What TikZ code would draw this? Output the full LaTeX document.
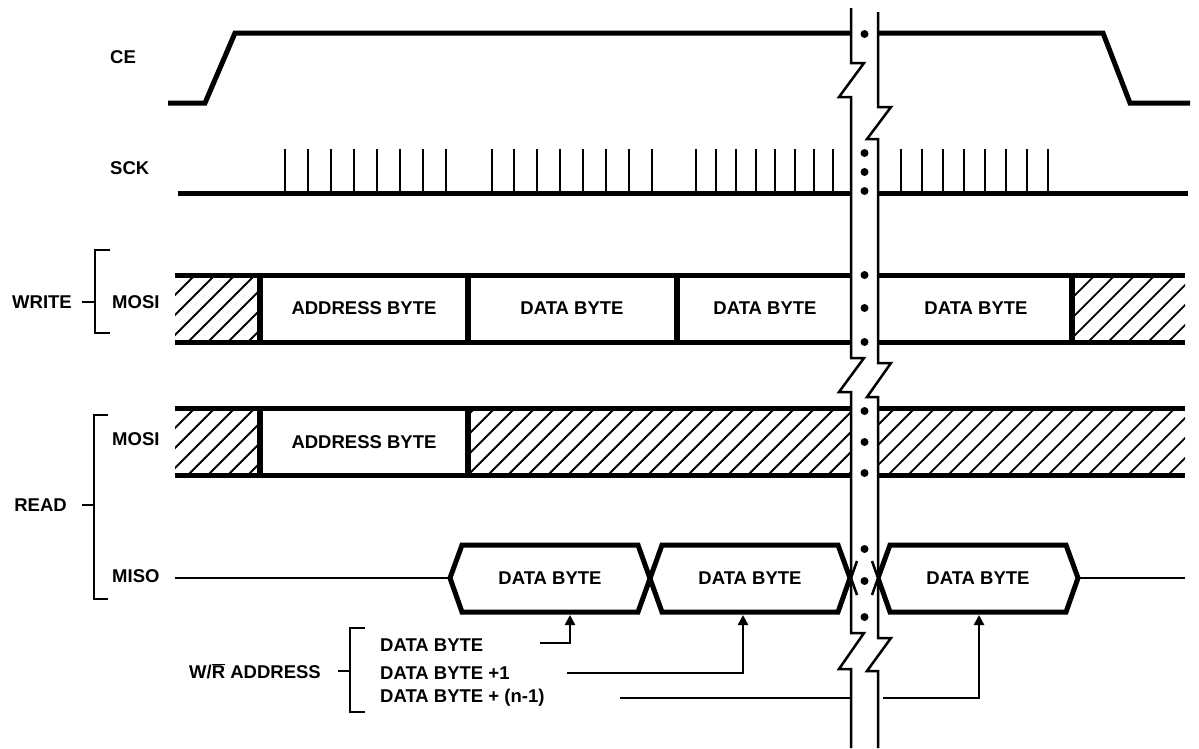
\documentclass[tikz,border=0pt]{standalone}
\usepackage{fontspec}
\setmainfont{Liberation Sans}
\usetikzlibrary{arrows.meta}

\begin{document}
\begin{tikzpicture}[x=1pt, y=-1pt,
    lbl/.style = {font=\bfseries\fontsize{18.5}{21}\selectfont, inner sep=0pt},
    sig/.style = {line width=5pt},
    thin/.style = {line width=2.5pt},
    hatch/.style = {line width=1.8pt},
    bar/.style = {line width=6pt},
    arr/.style = {line width=2.5pt, -{Triangle[width=10pt, length=10pt]}}]
  \useasboundingbox (0,0) rectangle (1199,748);

  % signal names
  \node[lbl, anchor=west] (ce) at (110,57) {CE};
  \node[lbl, anchor=west] (sck) at (110,168) {SCK};
  \node[lbl, anchor=west] (wmosi) at (112,302) {MOSI};
  \node[lbl, anchor=west] (rmosi) at (112,439) {MOSI};
  \node[lbl, anchor=west] (miso) at (112,576) {MISO};
  \node[lbl, anchor=east] (write) at (72,302) {WRITE};
  \node[lbl, anchor=east] (read) at (67,505) {READ};

  % brackets
  \draw[thin] (110,250) -- (95,250) -- (95,333) -- (110,333);
  \draw[thin] (82,302) -- (95,302);
  \draw[thin] (108,415) -- (94,415) -- (94,599) -- (108,599);
  \draw[thin] (82,505) -- (94,505);

  % CE
  \draw[sig] (168,103) -- (205,103) -- (235,33) -- (1103,33) -- (1130,103) -- (1190,103);

  % SCK
  \draw[sig] (178,193) -- (1188,193);
  \foreach \x in {285,308,331,354,377,400,423,446,
                  492,514,537,560,583,606,629,652,
                  696,716,736,756,775,795,814,833,
                  901,922,943,964,985,1006,1027,1048}
    \draw[thin] (\x,149) -- (\x,193);

  % WRITE MOSI
  \begin{scope}
    \clip (175,275) rectangle (258,342);
    \foreach \x in {108,128,...,268} \draw[hatch] (\x,342) -- ++(67,-67);
  \end{scope}
  \begin{scope}
    \clip (1074,275) rectangle (1185,342);
    \foreach \x in {1008,1028,...,1188} \draw[hatch] (\x,342) -- ++(67,-67);
  \end{scope}
  \draw[sig] (175,275) -- (1185,275);
  \draw[sig] (175,342) -- (1185,342);
  \foreach \x in {260,468,677,1072} \draw[bar] (\x,272.5) -- (\x,344.5);
  \node[lbl] (wadr) at (364,308) {ADDRESS BYTE};
  \node[lbl] (wd1) at (572,308) {DATA BYTE};
  \node[lbl] (wd2) at (765,308) {DATA BYTE};
  \node[lbl] (wd3) at (976,308) {DATA BYTE};

  % READ MOSI
  \begin{scope}
    \clip (175,408) rectangle (258,475);
    \foreach \x in {108,128,...,268} \draw[hatch] (\x,475) -- ++(67,-67);
  \end{scope}
  \begin{scope}
    \clip (470,408) rectangle (1185,475);
    \foreach \x in {408,428,...,1188} \draw[hatch] (\x,475) -- ++(67,-67);
  \end{scope}
  \draw[sig] (175,408) -- (1185,408);
  \draw[sig] (175,475) -- (1185,475);
  \foreach \x in {260,468} \draw[bar] (\x,405.5) -- (\x,477.5);
  \node[lbl] (radr) at (364,442) {ADDRESS BYTE};

  % MISO
  \draw[thin] (175,578) -- (450,578);
  \draw[sig] (450,578) -- (462,545) -- (638,545) -- (662,612) -- (838,612) -- (850,578);
  \draw[sig] (450,578) -- (462,612) -- (638,612) -- (662,545) -- (838,545) -- (850,578);
  \draw[sig] (878,578) -- (890,545) -- (1066,545) -- (1078,578) -- (1066,612) -- (890,612) -- cycle;
  \draw[thin] (1078,578) -- (1185,578);
  \node[lbl] (rd1) at (550,578) {DATA BYTE};
  \node[lbl] (rd2) at (750,578) {DATA BYTE};
  \node[lbl] (rd3) at (978,578) {DATA BYTE};

  % W/R address
  \node[lbl, anchor=east] (wr) at (321,671) {W/$\overline{\mbox{R}}$ ADDRESS};
  \draw[thin] (365,628) -- (350,628) -- (350,712) -- (365,712);
  \draw[thin] (338,671) -- (350,671);
  \node[lbl, anchor=west] (b0) at (380,645) {DATA BYTE};
  \node[lbl, anchor=west] (b1) at (380,673) {DATA BYTE +1};
  \node[lbl, anchor=west] (bn) at (380,698) {DATA BYTE + (n-1)};
  \coordinate (t1) at (570,615);
  \coordinate (t2) at (743,615);
  \coordinate (t3) at (979,615);
  \draw[arr] (540,643) -| (t1);
  \draw[arr] (567,673) -| (t2);
  \draw[thin] (620,698) -- (851,698);
  \draw[arr] (883,698) -| (t3);

  % break
  \fill[white] (851,0) rectangle (878,748);
  \draw[thin] (851,8) -- (851,63) -- ++(13,0) -- ++(-25,34) -- ++(12,0)
    -- (851,358) -- ++(13,0) -- ++(-25,34) -- ++(12,0)
    -- (851,633) -- ++(13,0) -- ++(-25,36) -- ++(12,0) -- (851,748);
  \draw[thin] (878,12) -- (878,107) -- ++(13,0) -- ++(-24,32) -- ++(11,0)
    -- (878,363) -- ++(13,0) -- ++(-24,34) -- ++(11,0)
    -- (878,638) -- ++(13,0) -- ++(-24,33) -- ++(11,0) -- (878,748);
  \draw[thin] (851,578) -- (857,561) (851,578) -- (857,595);
  \draw[thin] (878,578) -- (872,561) (878,578) -- (872,595);
  \foreach \y in {34,153,172,191,275,308,342,411,442,473,549,581,617}
    \fill (864.5,\y) circle[radius=4pt];
\end{tikzpicture}
\end{document}
